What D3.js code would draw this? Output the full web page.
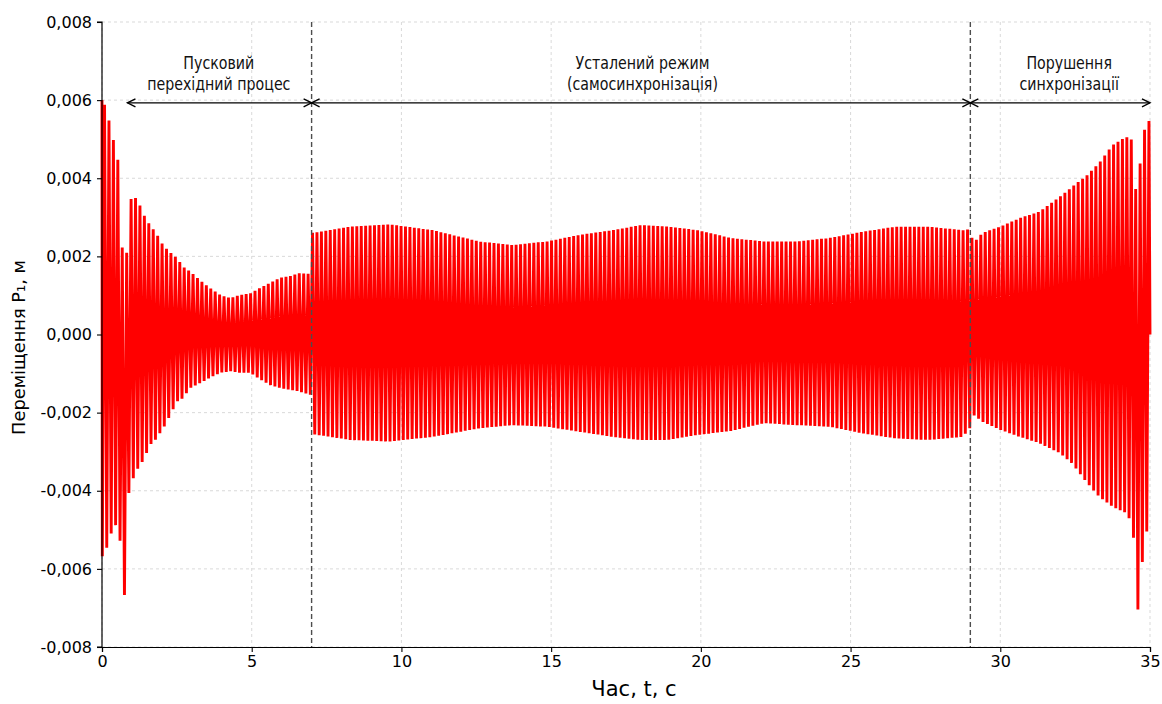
<!DOCTYPE html>
<html><head><meta charset="utf-8">
<script src="https://cdn.jsdelivr.net/npm/d3@7"></script>
<style>
html,body{margin:0;padding:0;background:#fff;}
svg{display:block;font-family:"DejaVu Sans",sans-serif;}
</style></head>
<body><svg id="c" width="1162" height="704"></svg>
<script>
// ---- data ----
const xTicks = [0, 5, 10, 15, 20, 25, 30, 35];
const yTicks = [-0.008, -0.006, -0.004, -0.002, 0, 0.002, 0.004, 0.006, 0.008];
const xLabel = "Час, t, с";
const yLabel = "Переміщення P₁, м";

// oscillation period (s) estimated from spacing of the peaks
const period = 0.1478;
const firstTrough = 0.011;

// envelope of the oscillation
const envTime = [0, 0.18, 0.27, 0.38, 0.5, 0.6, 0.69, 0.75, 0.83, 0.9, 1.05, 1.23, 1.4, 1.6, 1.78, 2.05, 2.28, 2.5, 2.7, 2.95, 3.28, 3.6, 3.95, 4.28, 4.6, 4.95, 5.28, 5.6, 5.95, 6.3, 6.6, 6.98, 7.02, 8.3, 9.6, 11.05, 12.6, 13.7, 14.85, 15.95, 17.05, 18.0, 18.9, 19.9, 21.0, 22.1, 23.2, 24.3, 25.4, 26.5, 27.6, 28.75, 28.98, 29.1, 29.4, 30.0, 30.65, 31.3, 32.0, 32.4, 32.9, 33.3, 33.75, 34.2, 34.4, 34.5, 34.6, 34.75, 34.9, 35];
const envUpper = [0.0060, 0.00575, 0.00529, 0.00498, 0.00478, 0.0037, 0.00196, 0.0020, 0.0021, 0.00337, 0.00357, 0.00337, 0.00306, 0.0028, 0.00263, 0.00227, 0.0021, 0.00196, 0.00174, 0.00161, 0.00138, 0.00119, 0.00101, 0.00093, 0.00101, 0.00105, 0.00119, 0.00132, 0.00145, 0.0015, 0.00157, 0.00155, 0.0026, 0.00276, 0.00282, 0.00267, 0.00238, 0.00229, 0.00238, 0.00255, 0.00267, 0.0028, 0.00276, 0.00267, 0.00247, 0.00238, 0.00238, 0.00247, 0.00263, 0.00276, 0.00276, 0.00267, 0.0027, 0.00234, 0.0026, 0.00276, 0.00298, 0.00314, 0.00353, 0.00378, 0.00408, 0.00439, 0.00485, 0.00506, 0.00498, 0.0037, 0.0038, 0.00503, 0.00549, 0.00545];
const envLower = [-0.00569, -0.00543, -0.0052, -0.00488, -0.00488, -0.00526, -0.00603, -0.00667, -0.00518, -0.00402, -0.00367, -0.00338, -0.0032, -0.00283, -0.0027, -0.0024, -0.00206, -0.00172, -0.00163, -0.00137, -0.00124, -0.00111, -0.00098, -0.00094, -0.00098, -0.00098, -0.00115, -0.00129, -0.00137, -0.00142, -0.00146, -0.00155, -0.00255, -0.0027, -0.00274, -0.00262, -0.0024, -0.00232, -0.00236, -0.00249, -0.00262, -0.0027, -0.0027, -0.00257, -0.00247, -0.00227, -0.00232, -0.00236, -0.00253, -0.00266, -0.0027, -0.00262, -0.0024, -0.00206, -0.00223, -0.00244, -0.00262, -0.00278, -0.00304, -0.0033, -0.0038, -0.00415, -0.00441, -0.00457, -0.00483, -0.0056, -0.0071, -0.00577, -0.005, -0.005];

// regime boundaries and annotations
const boundaries = [7, 29];
const arrowSpans = [[0.85, 7], [7, 29], [29, 35]];
const arrowLevel = 0.00593;
const regimeLabels = [
  {t: 3.9, lines: ["Пусковий", "перехідний процес"]},
  {t: 18.05, lines: ["Усталений режим", "(самосинхронізація)"]},
  {t: 32.3, lines: ["Порушення", "синхронізації"]}
];

// ---- chart ----
const svg = d3.select("#c");
const m = {l: 102, t: 22, r: 1162 - 1150, b: 704 - 647};
const W = 1162 - m.l - m.r, H = 704 - m.t - m.b;
const x = d3.scaleLinear().domain([0, 35]).range([m.l, m.l + W]);
const y = d3.scaleLinear().domain([-0.008, 0.008]).range([m.t + H, m.t]);

// grid
const g = svg.append("g");
g.selectAll(".vg").data(xTicks).join("line")
  .attr("x1", d => x(d)).attr("x2", d => x(d)).attr("y1", m.t).attr("y2", m.t + H)
  .attr("stroke", "#cfcfcf").attr("stroke-width", 0.8).attr("stroke-dasharray", "3,3");
g.selectAll(".hg").data(yTicks).join("line")
  .attr("x1", m.l).attr("x2", m.l + W).attr("y1", d => y(d)).attr("y2", d => y(d))
  .attr("stroke", "#cfcfcf").attr("stroke-width", 0.8).attr("stroke-dasharray", "3,3");

// signal: alternate peaks following the envelope
const upAt = d3.scaleLinear().domain(envTime).range(envUpper);
const loAt = d3.scaleLinear().domain(envTime).range(envLower);
const pts = [[0, upAt(0)]];
for (let k = 0; ; k++) {
  const t = firstTrough + k * period / 2;
  if (t >= 35) break;
  pts.push([t, k % 2 === 0 ? loAt(t) : upAt(t)]);
}
pts.push([35, 0]);
const line = d3.line().x(d => x(d[0])).y(d => y(d[1]));
svg.append("path").attr("d", line(pts)).attr("fill", "none")
  .attr("stroke", "#ff0000").attr("stroke-width", 2.9).attr("stroke-linejoin", "bevel");

// boundaries
svg.selectAll(".bd").data(boundaries).join("line")
  .attr("x1", d => x(d)).attr("x2", d => x(d)).attr("y1", m.t).attr("y2", m.t + H)
  .attr("stroke", "#4d4d4d").attr("stroke-width", 1.4).attr("stroke-dasharray", "5,3");

// arrows
const ah = 8, aw = 4;
arrowSpans.forEach(([a, b]) => {
  const x1 = x(a), x2 = x(b), yy = y(arrowLevel);
  svg.append("line").attr("x1", x1).attr("x2", x2).attr("y1", yy).attr("y2", yy)
    .attr("stroke", "#000").attr("stroke-width", 1.4);
  svg.append("path").attr("d", `M${x1 + ah},${yy - aw}L${x1},${yy}L${x1 + ah},${yy + aw}M${x2 - ah},${yy - aw}L${x2},${yy}L${x2 - ah},${yy + aw}`)
    .attr("fill", "none").attr("stroke", "#000").attr("stroke-width", 1.4);
});

// region labels (glyphs in the picture are taller than they are wide)
regimeLabels.forEach(r => {
  r.lines.forEach((s, i) => {
    svg.append("text").attr("transform", `translate(${x(r.t)},${68.5 + i * 21}) scale(1,1.2)`)
      .attr("text-anchor", "middle").attr("font-size", 14.2).attr("fill", "#111").text(s);
  });
});

// axes
const fmt = v => d3.format(".3f")(v).replace(".", ",").replace("−", "-");
const xa = svg.append("g").attr("transform", `translate(0,${m.t + H})`)
  .call(d3.axisBottom(x).tickValues(xTicks).tickSize(5).tickPadding(4).tickFormat(d3.format("d")));
const ya = svg.append("g").attr("transform", `translate(${m.l},0)`)
  .call(d3.axisLeft(y).tickValues(yTicks).tickSize(5).tickPadding(5).tickFormat(fmt));
[xa, ya].forEach(a => {
  a.select(".domain").attr("stroke", "#000").attr("stroke-width", 1.2);
  a.selectAll(".tick line").attr("stroke", "#000").attr("stroke-width", 1.1);
  a.selectAll("text").attr("font-size", 16).attr("fill", "#000").attr("font-family", "DejaVu Sans");
});
ya.selectAll(".domain").attr("d", `M-5,${m.t}H0V${m.t + H}H-5`);

svg.append("text").attr("x", x(17.5) + 8).attr("y", 696).attr("text-anchor", "middle")
  .attr("font-size", 21).attr("fill", "#000").text(xLabel);
svg.append("text").attr("transform", `translate(25,${y(0) + 13}) rotate(-90)`)
  .attr("text-anchor", "middle").attr("font-size", 17.8).attr("fill", "#000").text(yLabel);
</script></body></html>
